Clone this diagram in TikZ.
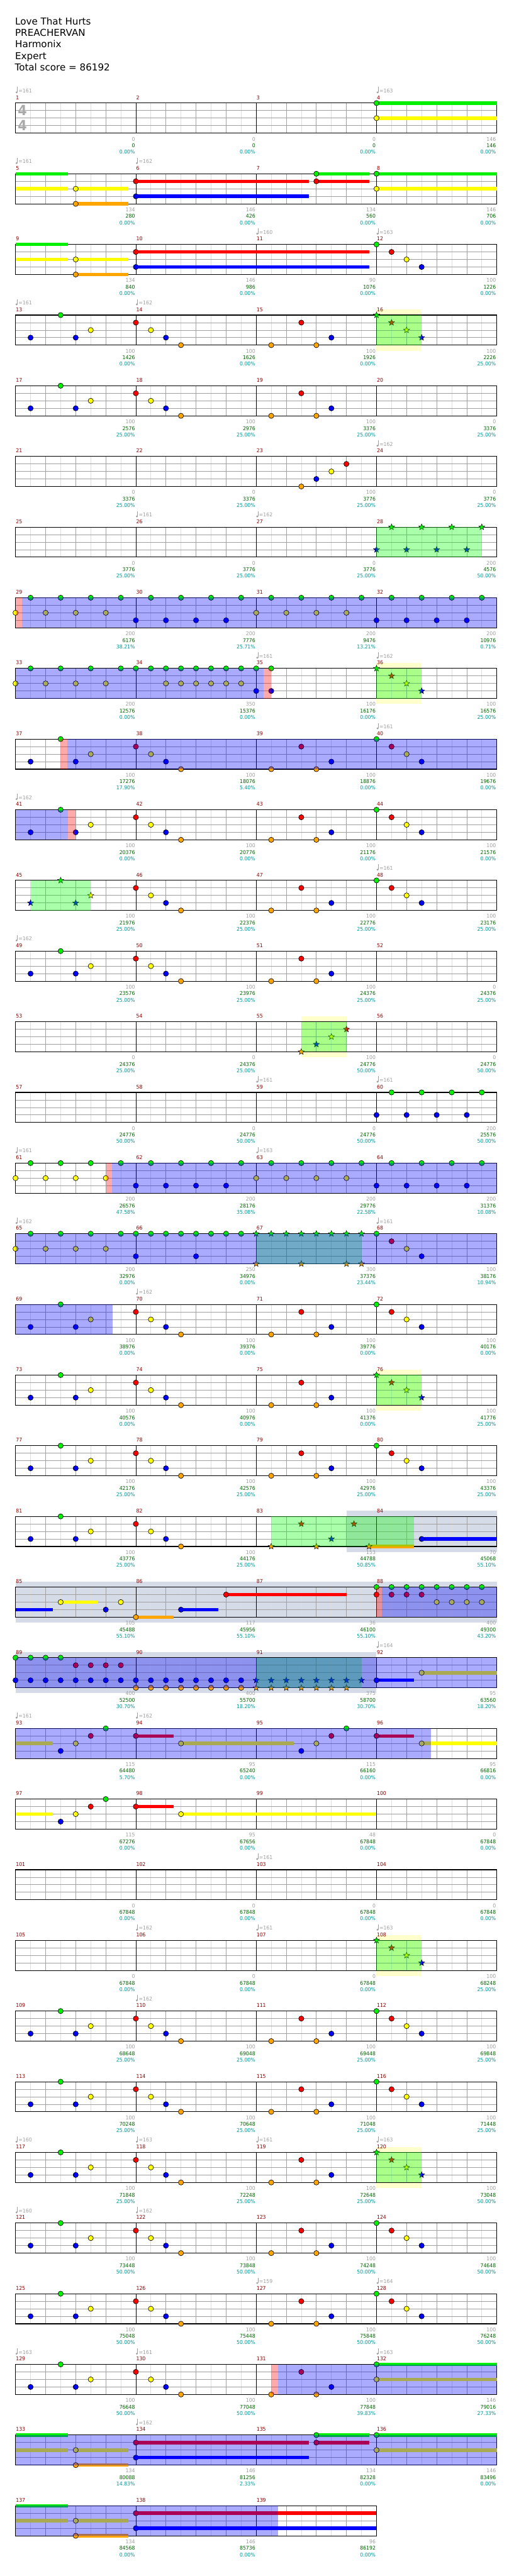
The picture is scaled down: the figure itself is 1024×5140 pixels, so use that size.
\documentclass[tikz,border=0pt]{standalone}
\usepackage{fontspec}
\setmainfont{DejaVu Sans}
\newfontfamily\lbl[FakeStretch=0.93]{DejaVu Sans}
\usetikzlibrary{shapes.geometric}
\definecolor{L0}{RGB}{0,240,0}
\definecolor{L1}{RGB}{255,0,0}
\definecolor{L2}{RGB}{255,255,0}
\definecolor{L3}{RGB}{0,0,255}
\definecolor{L4}{RGB}{255,165,0}
\definecolor{cgl}{RGB}{221,221,221}
\definecolor{cgm}{RGB}{160,160,160}
\definecolor{txgrey}{RGB}{160,160,160}
\definecolor{txred}{RGB}{140,0,0}
\definecolor{txgreen}{RGB}{0,100,0}
\definecolor{txcyan}{RGB}{0,153,153}
\definecolor{tsgrey}{RGB}{170,170,170}
\definecolor{paley}{RGB}{255,255,204}
\definecolor{solo}{RGB}{213,220,232}
\newcommand\lf{\lbl\fontsize{7.875}{9}\selectfont}
\tikzset{
  gridlt/.style={draw=cgl,line width=0.75pt},
  gridmd/.style={draw=cgm,line width=0.75pt},
  measln/.style={draw=black,line width=0.75pt},
  border/.style={draw=black,line width=1pt},
  mnum/.style={anchor=base west,inner sep=0pt,text=txred,font=\lf},
  sgrey/.style={anchor=base east,inner sep=0pt,text=txgrey,font=\lf},
  sgreen/.style={anchor=base east,inner sep=0pt,text=txgreen,font=\lf},
  scyan/.style={anchor=base east,inner sep=0pt,text=txcyan,font=\lf},
  tempo/.style={anchor=base west,inner sep=0pt,text=txgrey,font=\lf},
  notec/.style={draw=black,line width=0.6pt},
  starn/.style={star,star points=5,star point ratio=2.3,draw=black,line width=0.45pt,inner sep=0pt,minimum size=9.5pt},
  hdr/.style={anchor=base west,inner sep=0pt,font=\fontsize{14.25}{17}\selectfont},
  tsig/.style={inner sep=0pt,text=tsgrey,font=\lbl\bfseries\fontsize{21}{21}\selectfont},
}
\newcommand\RowAt[1]{\pgfmathsetmacro\RT{205.7+141*#1}}
\newcommand\Staff[2]{%
  \pgfmathsetmacro\Xe{31+240*#1}%
  \pgfmathtruncatemacro\Lo{8*#1-1}%
  \pgfmathtruncatemacro\Le{8*#1-2}%
  \pgfmathtruncatemacro\Lm{#1-1}%
  \foreach \ii in {1,3,...,\Lo}{\draw[gridlt] ({31+30*\ii},\RT) -- ++(0,60);}
  \foreach \ii in {2,4,...,\Le}{\draw[gridmd] ({31+30*\ii},\RT) -- ++(0,60);}
  \foreach \jj in {15,30,45}{\draw[gridmd] (31,\RT+\jj) -- (\Xe,\RT+\jj);}
  \foreach \ii in {1,...,\Lm}{\draw[measln] ({31+240*\ii},\RT) -- ++(0,60);}
  \draw[border] (31,\RT) rectangle (\Xe,\RT+60);
  \foreach \ii in {0,...,\Lm}{\pgfmathtruncatemacro\mm{#2+\ii}\node[mnum] at ({31+240*\ii+0.5},\RT-7.4) {\mm};}
}
\newcommand\Sc[4]{%
  \node[sgrey] at ({31+240*(#1+1)-1.5},\RT+75.4) {#2};
  \node[sgreen] at ({31+240*(#1+1)-1.5},\RT+88.7) {#3};
  \node[scyan] at ({31+240*(#1+1)-1.5},\RT+101.4) {#4\%};
}
\newcommand\Tp[2]{%
  \fill[txgrey] ({31+240*#1+2},\RT-21.3) circle[radius=1.5pt];
  \draw[txgrey,line width=0.7pt] ({31+240*#1+3.6},\RT-21.3) -- ({31+240*#1+3.6},\RT-32);
  \node[tempo] at ({31+240*#1+5.7},\RT-20.7) {=#2};
}
\newcommand\Nt[2]{\filldraw[fill=L#2,notec] ({31+30*#1},{\RT+15*#2}) circle[radius=3.9pt];}
\newcommand\Ns[2]{\foreach \e in {#2}{\Nt{\e}{#1}}}
\newcommand\St[2]{\node[starn,fill=L#2] at ({31+30*#1},{\RT+15*#2}) {};}
\newcommand\Ss[2]{\foreach \e in {#2}{\St{\e}{#1}}}
\newcommand\Su[3]{\fill[L#3] ({31+30*#1},{\RT+15*#3-3.4}) rectangle ({31+30*#2},{\RT+15*#3+3.4});}
\newcommand\SP[2]{\fill[blue,opacity=0.333] ({31+30*#1},\RT) rectangle ({31+30*#2},\RT+60);}
\newcommand\OD[2]{\fill[green,opacity=0.333] ({31+30*#1},\RT) rectangle ({31+30*#2},\RT+60);}
\newcommand\PK[2]{\fill[red,opacity=0.333] ({31+30*#1},\RT) rectangle ({31+30*#2},\RT+60);}
\newcommand\PY[2]{\fill[paley] ({31+30*#1},\RT-11) rectangle ({31+30*#2},\RT+71);}
\newcommand\SO[2]{\fill[solo] ({31+30*#1},\RT-11) rectangle ({31+30*#2},\RT+71);}
\newcommand\PatA{\Nt{1}{3}\Nt{3}{0}\Nt{4}{3}\Nt{5}{2}}
\newcommand\PatB{\Nt{8}{1}\Nt{9}{2}\Nt{10}{3}\Nt{11}{4}}
\newcommand\PatC{\Nt{17}{4}\Nt{19}{1}\Nt{20}{4}\Nt{21}{3}}
\newcommand\PatD{\Nt{24}{0}\Nt{25}{1}\Nt{26}{2}\Nt{27}{3}}
\newcommand\StarD{\St{24}{0}\St{25}{1}\St{26}{2}\St{27}{3}}
\begin{document}
\begin{tikzpicture}[x=0.75pt,y=-0.75pt]
\useasboundingbox (0,0) rectangle (1024,5140);
\fill[white] (0,0) rectangle (1024,5140);
\node[hdr] (title) at (30,49) {Love That Hurts};
\node[hdr] (artist) at (30,72) {PREACHERVAN};
\node[hdr] (charter) at (30,95) {Harmonix};
\node[hdr] (diff) at (30,118) {Expert};
\node[hdr] (total) at (29.3,141) {Total score = 86192};
% Row 0
\RowAt{0}\Staff{4}{1}
\node[tsig] (ts1) at (44.7,\RT+13.8) {4};
\node[tsig] (ts2) at (44.7,\RT+45.1) {4};
\Tp{0}{161}\Tp{3}{163}
\Su{24}{32}{0}\Su{24}{32}{2}\Nt{24}{0}\Nt{24}{2}
\Sc{0}{0}{0}{0.00}\Sc{1}{0}{0}{0.00}\Sc{2}{0}{0}{0.00}\Sc{3}{146}{146}{0.00}
% Row 1
\RowAt{1}\Staff{4}{5}\Tp{0}{161}\Tp{1}{162}
\Su{0}{3.5}{0}\Su{0}{3.5}{2}\Su{4}{7.5}{2}\Su{4}{7.5}{4}\Su{8}{19.5}{1}\Su{8}{19.5}{3}\Su{20}{23.5}{0}\Su{20}{23.5}{1}\Su{24}{32}{0}\Su{24}{32}{2}
\Nt{4}{2}\Nt{4}{4}\Nt{8}{1}\Nt{8}{3}\Nt{20}{0}\Nt{20}{1}\Nt{24}{0}\Nt{24}{2}
\Sc{0}{134}{280}{0.00}\Sc{1}{146}{426}{0.00}\Sc{2}{134}{560}{0.00}\Sc{3}{146}{706}{0.00}
% Row 2
\RowAt{2}\Staff{4}{9}\Tp{2}{160}\Tp{3}{163}
\Su{0}{3.5}{0}\Su{0}{3.5}{2}\Su{4}{7.5}{2}\Su{4}{7.5}{4}\Su{8}{23.5}{1}\Su{8}{23.5}{3}
\Nt{4}{2}\Nt{4}{4}\Nt{8}{1}\Nt{8}{3}\PatD
\Sc{0}{134}{840}{0.00}\Sc{1}{146}{986}{0.00}\Sc{2}{90}{1076}{0.00}\Sc{3}{100}{1226}{0.00}
% Row 3
\RowAt{3}\PY{24}{27}\Staff{4}{13}\Tp{0}{161}\Tp{1}{162}
\PatA\PatB\PatC\StarD\OD{24}{27}
\Sc{0}{100}{1426}{0.00}\Sc{1}{100}{1626}{0.00}\Sc{2}{100}{1926}{0.00}\Sc{3}{100}{2226}{25.00}
% Row 4
\RowAt{4}\Staff{4}{17}\PatA\PatB\PatC
\Sc{0}{100}{2576}{25.00}\Sc{1}{100}{2976}{25.00}\Sc{2}{100}{3376}{25.00}\Sc{3}{0}{3376}{25.00}
% Row 5
\RowAt{5}\Staff{4}{21}\Tp{3}{162}
\Nt{19}{4}\Nt{20}{3}\Nt{21}{2}\Nt{22}{1}
\Sc{0}{0}{3376}{25.00}\Sc{1}{0}{3376}{25.00}\Sc{2}{100}{3776}{25.00}\Sc{3}{0}{3776}{25.00}
% Row 6
\RowAt{6}\Staff{4}{25}\Tp{1}{161}\Tp{2}{162}
\Ss{0}{25,27,29,31}\Ss{3}{24,26,28,30}\OD{24}{31}
\Sc{0}{0}{3776}{25.00}\Sc{1}{0}{3776}{25.00}\Sc{2}{0}{3776}{25.00}\Sc{3}{200}{4576}{50.00}
% Row 7
\RowAt{7}\Staff{4}{29}
\Ns{0}{1,3,...,31}\Ns{2}{0,2,4,6,16,18,20,22}\Ns{3}{8,10,12,14,24,26,28,30}
\PK{0}{0.42}\SP{0.42}{32}
\Sc{0}{200}{6176}{38.21}\Sc{1}{200}{7776}{25.71}\Sc{2}{200}{9476}{13.21}\Sc{3}{200}{10976}{0.71}
% Row 8
\RowAt{8}\PY{24}{27}\Staff{4}{33}\Tp{2}{161}\Tp{3}{162}
\Ns{0}{1,3,5,7,8,9,10,11,12,13,14,15,16,17}\Ns{2}{0,2,4,6,10,11,12,13,14,15}\Ns{3}{16,17}\StarD
\OD{24}{27}\SP{0}{16.5}\PK{16.5}{17}
\Sc{0}{200}{12576}{0.00}\Sc{1}{350}{15376}{0.00}\Sc{2}{100}{16176}{0.00}\Sc{3}{100}{16576}{25.00}
% Row 9
\RowAt{9}\Staff{4}{37}\Tp{3}{161}
\PatA\PatB\PatC\PatD\PK{3}{3.43}\SP{3.43}{32}
\Sc{0}{100}{17276}{17.90}\Sc{1}{100}{18076}{5.40}\Sc{2}{100}{18876}{0.00}\Sc{3}{100}{19676}{0.00}
% Row 10
\RowAt{10}\Staff{4}{41}\Tp{0}{162}
\PatA\PatB\PatC\PatD\SP{0}{3.47}\PK{3.47}{4}
\Sc{0}{100}{20376}{0.00}\Sc{1}{100}{20776}{0.00}\Sc{2}{100}{21176}{0.00}\Sc{3}{100}{21576}{0.00}
% Row 11
\RowAt{11}\Staff{4}{45}\Tp{3}{161}
\St{1}{3}\St{3}{0}\St{4}{3}\St{5}{2}\PatB\PatC\PatD\OD{1}{5}
\Sc{0}{100}{21976}{25.00}\Sc{1}{100}{22376}{25.00}\Sc{2}{100}{22776}{25.00}\Sc{3}{100}{23176}{25.00}
% Row 12
\RowAt{12}\Staff{4}{49}\Tp{0}{162}
\PatA\PatB\PatC
\Sc{0}{100}{23576}{25.00}\Sc{1}{100}{23976}{25.00}\Sc{2}{100}{24376}{25.00}\Sc{3}{0}{24376}{25.00}
% Row 13
\RowAt{13}\PY{19}{22}\Staff{4}{53}
\St{19}{4}\St{20}{3}\St{21}{2}\St{22}{1}\OD{19}{22}
\Sc{0}{0}{24376}{25.00}\Sc{1}{0}{24376}{25.00}\Sc{2}{100}{24776}{50.00}\Sc{3}{0}{24776}{50.00}
% Row 14
\RowAt{14}\Staff{4}{57}\Tp{2}{161}\Tp{3}{161}
\Ns{0}{25,27,29,31}\Ns{3}{24,26,28,30}
\Sc{0}{0}{24776}{50.00}\Sc{1}{0}{24776}{50.00}\Sc{2}{0}{24776}{50.00}\Sc{3}{200}{25576}{50.00}
% Row 15
\RowAt{15}\Staff{4}{61}\Tp{0}{161}\Tp{2}{163}
\Ns{0}{1,3,...,31}\Ns{2}{0,2,4,6,16,18,20,22}\Ns{3}{8,10,12,14,24,26,28,30}
\PK{6.02}{6.43}\SP{6.43}{32}
\Sc{0}{200}{26576}{47.58}\Sc{1}{200}{28176}{35.08}\Sc{2}{200}{29776}{22.58}\Sc{3}{200}{31376}{10.08}
% Row 16
\RowAt{16}\Staff{4}{65}\Tp{0}{162}\Tp{3}{161}
\Ns{0}{1,3,5,7,8,9,10,11,12,13,14,15}\Ns{2}{0,2,4,6}\Ns{3}{8,12}
\Ss{0}{16,...,23}\Ss{4}{16,19,22,23}\PatD
\OD{16}{23}\SP{0}{32}
\Sc{0}{200}{32976}{0.00}\Sc{1}{250}{34976}{0.00}\Sc{2}{300}{37376}{23.44}\Sc{3}{100}{38176}{10.94}
% Row 17
\RowAt{17}\Staff{4}{69}\Tp{1}{162}
\PatA\PatB\PatC\PatD\SP{0}{6.47}
\Sc{0}{100}{38976}{0.00}\Sc{1}{100}{39376}{0.00}\Sc{2}{100}{39776}{0.00}\Sc{3}{100}{40176}{0.00}
% Row 18
\RowAt{18}\PY{24}{27}\Staff{4}{73}
\PatA\PatB\PatC\StarD\OD{24}{27}
\Sc{0}{100}{40576}{0.00}\Sc{1}{100}{40976}{0.00}\Sc{2}{100}{41376}{0.00}\Sc{3}{100}{41776}{25.00}
% Row 19
\RowAt{19}\Staff{4}{77}
\PatA\PatB\PatC\PatD
\Sc{0}{100}{42176}{25.00}\Sc{1}{100}{42576}{25.00}\Sc{2}{100}{42976}{25.00}\Sc{3}{100}{43376}{25.00}
% Row 20
\RowAt{20}\SO{22}{32}\Staff{4}{81}
\PatA\PatB\Su{23.5}{26.5}{4}\Su{27}{32}{3}
\St{17}{4}\St{19}{1}\St{20}{4}\St{21}{3}\St{22.5}{1}\St{23.5}{4}\Nt{27}{3}
\OD{17}{26.5}
\Sc{0}{100}{43776}{25.00}\Sc{1}{100}{44176}{25.00}\Sc{2}{153}{44788}{50.85}\Sc{3}{70}{45068}{55.10}
% Row 21
\RowAt{21}\SO{0}{32}\Staff{4}{85}
\Su{0}{2.5}{3}\Su{3}{5.5}{2}\Su{8}{10.5}{4}\Su{11}{13.5}{3}\Su{14}{22}{1}
\Nt{3}{2}\Nt{6}{3}\Nt{7}{2}\Nt{8}{4}\Nt{11}{3}\Nt{14}{1}
\Ns{0}{24,...,31}\Ns{1}{24,25,26,27}\Ns{2}{28,29,30,31}
\PK{24}{24.37}\SP{24.37}{32}
\Sc{0}{105}{45488}{55.10}\Sc{1}{117}{45956}{55.10}\Sc{2}{36}{46100}{55.10}\Sc{3}{400}{49300}{43.20}
% Row 22
\RowAt{22}\SO{0}{24}\Staff{4}{89}\Tp{3}{164}
\Su{24}{26.5}{3}\Su{27}{32}{2}
\Ns{0}{0,1,2,3}\Ns{1}{4,5,6,7}\Ns{3}{0,...,15}\Ns{4}{8,...,15}
\Ss{3}{16,...,23}\Ss{4}{16,...,22}\Nt{24}{3}\Nt{27}{2}
\OD{16}{23}\SP{0}{32}
\Sc{0}{400}{52500}{30.70}\Sc{1}{400}{55700}{18.20}\Sc{2}{375}{58700}{30.70}\Sc{3}{95}{63560}{18.20}
% Row 23
\RowAt{23}\Staff{4}{93}\Tp{0}{161}\Tp{1}{162}
\Su{0}{2.5}{2}\Su{8}{10.5}{1}\Su{11}{18.5}{2}\Su{24}{26.5}{1}\Su{27}{32}{2}
\Nt{3}{3}\Nt{4}{2}\Nt{5}{1}\Nt{6}{0}\Nt{8}{1}\Nt{11}{2}\Nt{19}{3}\Nt{20}{2}\Nt{21}{1}\Nt{22}{0}\Nt{24}{1}\Nt{27}{2}
\SP{0}{27.64}
\Sc{0}{115}{64480}{5.70}\Sc{1}{95}{65240}{0.00}\Sc{2}{115}{66160}{0.00}\Sc{3}{95}{66816}{0.00}
% Row 24
\RowAt{24}\Staff{4}{97}
\Su{0}{2.5}{2}\Su{8}{10.5}{1}\Su{11}{24}{2}
\Nt{3}{3}\Nt{4}{2}\Nt{5}{1}\Nt{6}{0}\Nt{8}{1}\Nt{11}{2}
\Sc{0}{115}{67276}{0.00}\Sc{1}{95}{67656}{0.00}\Sc{2}{48}{67848}{0.00}\Sc{3}{0}{67848}{0.00}
% Row 25
\RowAt{25}\Staff{4}{101}\Tp{2}{161}
\Sc{0}{0}{67848}{0.00}\Sc{1}{0}{67848}{0.00}\Sc{2}{0}{67848}{0.00}\Sc{3}{0}{67848}{0.00}
% Row 26
\RowAt{26}\PY{24}{27}\Staff{4}{105}\Tp{1}{162}\Tp{2}{161}\Tp{3}{163}
\StarD\OD{24}{27}
\Sc{0}{0}{67848}{0.00}\Sc{1}{0}{67848}{0.00}\Sc{2}{0}{67848}{0.00}\Sc{3}{100}{68248}{25.00}
% Row 27
\RowAt{27}\Staff{4}{109}\Tp{1}{162}
\PatA\PatB\PatC\PatD
\Sc{0}{100}{68648}{25.00}\Sc{1}{100}{69048}{25.00}\Sc{2}{100}{69448}{25.00}\Sc{3}{100}{69848}{25.00}
% Row 28
\RowAt{28}\Staff{4}{113}
\PatA\PatB\PatC\PatD
\Sc{0}{100}{70248}{25.00}\Sc{1}{100}{70648}{25.00}\Sc{2}{100}{71048}{25.00}\Sc{3}{100}{71448}{25.00}
% Row 29
\RowAt{29}\PY{24}{27}\Staff{4}{117}\Tp{0}{160}\Tp{1}{163}\Tp{2}{161}\Tp{3}{163}
\PatA\PatB\PatC\StarD\OD{24}{27}
\Sc{0}{100}{71848}{25.00}\Sc{1}{100}{72248}{25.00}\Sc{2}{100}{72648}{25.00}\Sc{3}{100}{73048}{50.00}
% Row 30
\RowAt{30}\Staff{4}{121}\Tp{0}{160}\Tp{1}{162}
\PatA\PatB\PatC\PatD
\Sc{0}{100}{73448}{50.00}\Sc{1}{100}{73848}{50.00}\Sc{2}{100}{74248}{50.00}\Sc{3}{100}{74648}{50.00}
% Row 31
\RowAt{31}\Staff{4}{125}\Tp{2}{159}\Tp{3}{164}
\PatA\PatB\PatC\PatD
\Sc{0}{100}{75048}{50.00}\Sc{1}{100}{75448}{50.00}\Sc{2}{100}{75848}{50.00}\Sc{3}{100}{76248}{50.00}
% Row 32
\RowAt{32}\Staff{4}{129}\Tp{0}{163}\Tp{1}{161}\Tp{3}{163}
\Su{24}{32}{0}\Su{24}{32}{2}
\PatA\PatB\PatC\Nt{24}{0}\Nt{24}{2}
\PK{17}{17.47}\SP{17.47}{32}
\Sc{0}{100}{76648}{50.00}\Sc{1}{100}{77048}{50.00}\Sc{2}{100}{77848}{39.83}\Sc{3}{146}{79016}{27.33}
% Row 33
\RowAt{33}\Staff{4}{133}\Tp{1}{162}
\Su{0}{3.5}{0}\Su{0}{3.5}{2}\Su{4}{7.5}{2}\Su{4}{7.5}{4}\Su{8}{19.5}{1}\Su{8}{19.5}{3}\Su{20}{23.5}{0}\Su{20}{23.5}{1}\Su{24}{32}{0}\Su{24}{32}{2}
\Nt{4}{2}\Nt{4}{4}\Nt{8}{1}\Nt{8}{3}\Nt{20}{0}\Nt{20}{1}\Nt{24}{0}\Nt{24}{2}
\SP{0}{32}
\Sc{0}{134}{80088}{14.83}\Sc{1}{146}{81256}{2.33}\Sc{2}{134}{82328}{0.00}\Sc{3}{146}{83496}{0.00}
% Row 34
\RowAt{34}\Staff{3}{137}
\Su{0}{3.5}{0}\Su{0}{3.5}{2}\Su{4}{7.5}{2}\Su{4}{7.5}{4}\Su{8}{24}{1}\Su{8}{24}{3}
\Nt{4}{2}\Nt{4}{4}\Nt{8}{1}\Nt{8}{3}
\SP{0}{17.47}
\Sc{0}{134}{84568}{0.00}\Sc{1}{146}{85736}{0.00}\Sc{2}{96}{86192}{0.00}
\end{tikzpicture}
\end{document}
